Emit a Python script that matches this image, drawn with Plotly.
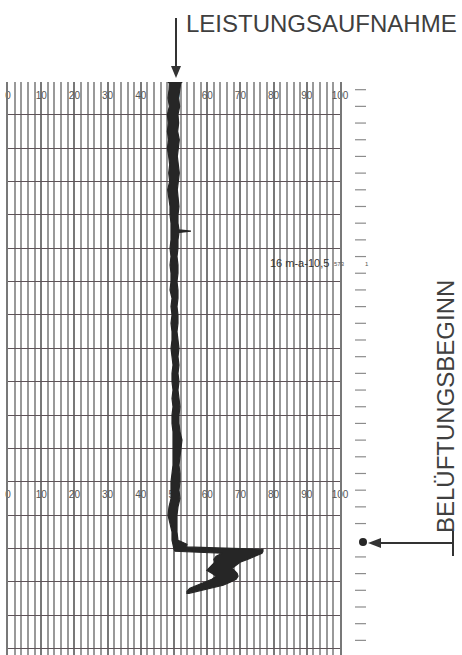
import plotly.graph_objects as go

# ---------------- data ----------------
# chart-recorder scale (percent of full scale)
scale_ticks = [0, 10, 20, 30, 40, 50, 60, 70, 80, 90, 100]
scale_labels = ["0", "10", "20", "30", "40", "50", "60", "70", "80", "90", "100"]
scale_label_rows = [0.45, 12.4]          # the two printed label rows (time in grid rows)

# pen trace: time (grid rows, top = 0), left and right edge of the ink (percent)
pen_row = [0.00, 0.06, 0.25, 0.50, 0.75, 1.00, 1.25, 1.50, 1.75, 2.00, 2.25, 2.50,
           2.75, 3.00, 3.25, 3.50, 3.75, 4.00, 4.25, 4.45, 4.49, 4.53, 4.75, 5.00,
           5.25, 5.50, 5.75, 6.00, 6.25, 6.50, 6.75, 7.00, 7.25, 7.50, 7.75, 8.00,
           8.25, 8.50, 8.75, 9.00, 9.25, 9.50, 9.75, 10.00, 10.25, 10.50, 10.75,
           11.00, 11.25, 11.50, 11.75, 12.00, 12.25, 12.50, 12.75, 13.00, 13.25,
           13.50, 13.75, 13.87, 13.95, 14.02, 14.08, 14.14, 14.23, 14.32, 14.41,
           14.50, 14.59, 14.65, 14.74, 14.83, 14.92, 15.01, 15.10, 15.19, 15.28,
           15.34]
pen_left = [48.0, 48.6, 48.5, 48.2, 48.6, 48.0, 48.3, 48.0, 48.4, 48.0, 48.4, 48.7,
            48.4, 48.7, 48.1, 48.5, 48.8, 48.8, 49.1, 49.1, 49.1, 49.1, 49.1, 48.8,
            49.1, 48.8, 49.1, 49.1, 48.8, 49.4, 49.1, 49.4, 49.1, 49.4, 49.4, 49.1,
            49.4, 49.7, 49.4, 49.4, 49.7, 49.4, 49.7, 49.4, 49.4, 49.7, 49.7,
            49.7, 49.7, 49.7, 49.4, 49.1, 49.1, 49.1, 48.5, 48.2, 48.8,
            49.4, 49.4, 49.7, 49.7, 50.0, 50.3, 64.5, 62.7, 62.0, 62.3,
            61.4, 60.2, 59.9, 61.4, 62.7, 61.4, 59.0, 56.6, 54.8, 53.9,
            53.9]
pen_right = [52.6, 52.0, 51.7, 51.4, 51.7, 51.2, 51.4, 51.1, 51.6, 51.3, 51.0, 51.3,
             51.6, 51.3, 51.0, 51.2, 51.5, 51.2, 51.2, 51.5, 55.1, 51.5, 51.2, 51.2,
             50.9, 51.2, 51.2, 50.9, 51.2, 51.2, 50.9, 51.2, 51.2, 50.9, 51.2, 51.5,
             51.2, 51.5, 51.2, 51.5, 51.2, 51.5, 51.8, 51.5, 51.5, 51.8, 52.4,
             52.1, 51.8, 51.5, 51.8, 51.8, 51.5, 51.8, 51.2, 50.9, 50.9,
             50.9, 51.2, 53.9, 53.6, 76.8, 76.8, 76.5, 74.7, 72.3, 69.9,
             68.7, 67.5, 68.1, 69.0, 69.3, 68.7, 66.9, 64.8, 61.4, 57.2,
             54.5]

# time marks on the right-hand margin (grid rows)
time_marks = [0.25 + 0.5 * i for i in range(34) if abs(0.25 + 0.5 * i - 13.75) > 0.01]
aeration_start_row = 13.8

# ---------------- geometry helpers ----------------
W, H = 462, 655
L, R, T, B = 8, 122, 82, 0
PW, PH = W - L - R, H - T - B
ROW_PX = 33.375
ROWS = PH / ROW_PX
Y0 = 0.02                      # row shown at the top edge of the grid


def pxx(x):
    return (x - L) / PW


def pxy(y):
    return (H - B - y) / PH


def row_to_paper(r):
    return 1 - (r - Y0) / ROWS


INK = "#262626"
TXT = "#3f3f3f"

fig = go.Figure()

# printed scale numbers (under the ink)
lab_x, lab_y, lab_t = [], [], []
for r in scale_label_rows:
    for v, t in zip(scale_ticks, scale_labels):
        lab_x.append(v)
        lab_y.append(r)
        lab_t.append(t)
fig.add_trace(go.Scatter(
    x=lab_x, y=lab_y, text=lab_t, mode="text",
    textfont=dict(family="Liberation Sans, Arial", size=10, color="#555555"),
    cliponaxis=False, hoverinfo="skip", showlegend=False))

# pen ink
poly_x = pen_left + pen_right[::-1]
poly_y = pen_row + pen_row[::-1]
fig.add_trace(go.Scatter(
    x=poly_x, y=poly_y, mode="lines", fill="toself",
    fillcolor=INK, line=dict(color=INK, width=1.2),
    hoverinfo="skip", showlegend=False))

fig.update_xaxes(range=[0, 100], showgrid=True, dtick=10, tick0=0,
                 gridcolor="#787878", gridwidth=2,
                 minor=dict(dtick=2, showgrid=True, gridcolor="#999999", gridwidth=1.5),
                 showticklabels=False, ticks="", zeroline=False, showline=False,
                 fixedrange=True)
fig.update_yaxes(range=[ROWS + Y0, Y0], showgrid=True, dtick=1, tick0=0,
                 gridcolor="#5e5358", gridwidth=1.2,
                 showticklabels=False, ticks="", zeroline=False,
                 showline=True, mirror=True, linecolor="#787878", linewidth=2,
                 fixedrange=True)

shapes = []
# right-margin time marks
for r in time_marks:
    yp = row_to_paper(r)
    shapes.append(dict(type="line", xref="paper", yref="paper",
                       x0=pxx(355), x1=pxx(366), y0=yp, y1=yp,
                       line=dict(color="#8c8c8c", width=1.2)))
# aeration start dot
yd = row_to_paper(aeration_start_row)
shapes.append(dict(type="circle", xref="paper", yref="paper",
                   x0=pxx(359), x1=pxx(367), y0=yd - 4 / PH, y1=yd + 4 / PH,
                   fillcolor=INK, line=dict(width=0)))
# LEISTUNGSAUFNAHME arrow
shapes.append(dict(type="line", xref="paper", yref="paper",
                   x0=pxx(176), x1=pxx(176), y0=pxy(18), y1=pxy(67),
                   line=dict(color="#333333", width=2)))
shapes.append(dict(type="path", xref="paper", yref="paper",
                   path=f"M {pxx(171)} {pxy(66)} L {pxx(181)} {pxy(66)} L {pxx(176)} {pxy(78)} Z",
                   fillcolor="#333333", line=dict(width=0)))
# BELÜFTUNGSBEGINN arrow
ya = 543
shapes.append(dict(type="line", xref="paper", yref="paper",
                   x0=pxx(453), x1=pxx(378), y0=pxy(ya), y1=pxy(ya),
                   line=dict(color="#333333", width=2)))
shapes.append(dict(type="line", xref="paper", yref="paper",
                   x0=pxx(453), x1=pxx(453), y0=pxy(531), y1=pxy(556),
                   line=dict(color="#333333", width=2)))
shapes.append(dict(type="path", xref="paper", yref="paper",
                   path=f"M {pxx(368)} {pxy(ya)} L {pxx(381)} {pxy(ya - 5)} L {pxx(381)} {pxy(ya + 5)} Z",
                   fillcolor="#333333", line=dict(width=0)))

annotations = [
    dict(text="LEISTUNGSAUFNAHME", xref="paper", yref="paper",
         x=pxx(184), y=pxy(23), xanchor="left", yanchor="middle", showarrow=False,
         font=dict(family="Liberation Sans, Arial", size=24, color=TXT)),
    dict(text="BELÜFTUNGSBEGINN", xref="paper", yref="paper", textangle=-90,
         x=pxx(445), y=pxy(407), xanchor="center", yanchor="middle", showarrow=False,
         font=dict(family="Liberation Sans, Arial", size=24, color=TXT)),
    dict(text="16 m-a-10,5", xref="x", yref="y", x=87.7, y=5.45,
         showarrow=False,
         font=dict(family="Liberation Sans, Arial", size=11, color="#333333")),
    dict(text="573", xref="paper", yref="paper", x=pxx(347), y=pxy(259),
         showarrow=False, font=dict(family="Liberation Sans, Arial", size=6, color="#555555")),
    dict(text="1", xref="paper", yref="paper", x=pxx(371), y=pxy(259),
         showarrow=False, font=dict(family="Liberation Sans, Arial", size=6, color="#555555")),
]

fig.update_layout(width=W, height=H, margin=dict(l=L, r=R, t=T, b=B, pad=0),
                  paper_bgcolor="white", plot_bgcolor="white",
                  shapes=shapes, annotations=annotations, showlegend=False)

fig.write_html("out.html", config={"displayModeBar": False},
               post_script="document.body.style.margin='0';document.body.style.overflow='hidden';")
